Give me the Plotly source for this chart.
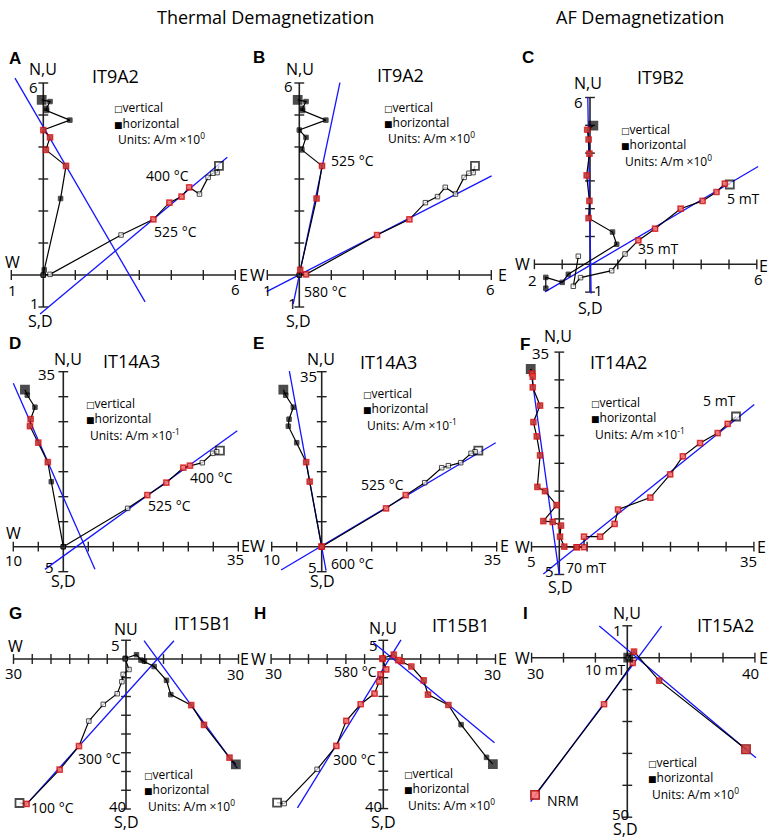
import plotly.graph_objects as go

W, H = 772, 840
FONT = "Open Sans"
BOLD = "Liberation Sans"

# ---------------- data (values in A/m, panel units) ----------------
# IT9A2 (panels A, B)
IT9A2_H_E = [-0.05, 0.21, 0.10, 0.10, 0.83, 0.00, 0.21, 0.08, 0.71, 0.54, 0.03, 0.00]
IT9A2_H_N = [5.47, 5.42, 5.21, 5.14, 4.84, 4.53, 4.30, 3.91, 3.41, 2.39, 0.16, 0.00]
IT9A2_V_X = [5.49, 5.43, 5.30, 5.15, 4.88, 4.56, 4.32, 3.94, 3.44, 2.43, 0.21, 0.00]
IT9A2_V_U = [3.41, 3.20, 3.18, 3.05, 2.53, 2.74, 2.45, 2.26, 1.74, 1.25, 0.02, 0.00]
# IT9B2 (panel C)
IT9B2_H_E = [0.12, -0.10, -0.05, -0.02, -0.12, -0.02, -0.05, 0.81, 0.96, -0.78, -1.00, -1.59, -1.59]
IT9B2_H_N = [4.99, 4.84, 4.49, 3.98, 3.20, 2.28, 1.66, 1.16, 0.72, -0.36, -0.65, -0.47, -0.86]
IT9B2_V_X = [5.03, 4.85, 4.55, 4.05, 3.26, 2.34, 1.74, 1.26, 0.78, -0.34, -0.60, -0.42]
IT9B2_V_U = [2.87, 2.90, 2.60, 2.28, 2.00, 1.28, 0.86, 0.37, -0.23, -0.48, -0.79, 0.29]
# IT14A3 (panels D, E)
IT14A3_H_E = [-7.67, -7.2, -5.67, -6.53, -6.67, -5.0, -3.1, -2.4, 0.0]
IT14A3_H_N = [31.4, 30.3, 27.9, 25.5, 24.1, 20.8, 16.9, 13.0, 0.0]
IT14A3_V_X = [31.33, 30.67, 29.87, 27.8, 25.33, 24.0, 20.6, 16.8, 12.87, 0.0]
IT14A3_V_U = [19.2, 19.0, 18.67, 16.8, 16.2, 15.8, 12.8, 10.33, 7.67, 0.0]
# IT14A2 (panel F)
IT14A2_H_E = [-5.14, -4.9, -4.78, -4.78, -3.46, -4.66, -4.06, -3.46, -3.94, -2.57, -0.48,
              -2.87, -1.19, 0.3, 0.13, 0.9, 3.13]
IT14A2_H_N = [31.96, 31.2, 30.59, 28.67, 25.39, 22.4, 19.83, 16.43, 10.75, 9.98, 7.47,
              4.6, 4.48, 3.8, 1.8, 0.0, -0.1]
IT14A2_V_X = [31.78, 30.29, 28.49, 25.33, 22.22, 19.95, 16.37, 10.57, 9.95, 7.35, 4.45, 4.45, 3.13]
IT14A2_V_U = [23.42, 22.1, 20.43, 18.64, 16.25, 13.02, 8.84, 6.69, 4.1, 1.8, 1.8, -0.1, -0.1]
# IT15B1 (panels G, H)
IT15B1_H_E = [29.3, 27.6, 20.8, 17.4, 11.95, 10.8, 7.5, 4.9, 4.0, 2.8, -0.2]
IT15B1_H_N = [-28.1, -26.3, -17.55, -12.3, -9.5, -5.7, -2.0, -0.6, -0.3, 1.15, 0.2]
IT15B1_V_X = [-28.4, -26.5, -17.7, -12.55, -9.9, -6.05, -2.35, -1.1, -0.75, 0.8, -0.2]
IT15B1_V_U = [-38.4, -38.65, -29.5, -23.25, -16.55, -12.1, -9.25, -6.05, -4.1, -2.8, 0.0]
# IT15A2 (panel I)
IT15A2_H_E = [37.2, 10.0, 2.1, 0.3]
IT15A2_H_N = [-28.7, -7.2, 1.9, 0.0]
IT15A2_V_X = [-28.9, -7.3, 1.7, 0.3]
IT15A2_V_U = [-43.0, -14.6, -1.6, 0.0]

# fitted directions (line end points)
A_FIT = [([-0.885, 3.18], [6.15, -0.84]), ([-0.10, 5.75], [-1.22, 3.68])]
B_FIT = [([-0.19, 1.27], [-0.90, 6.01]), ([-1.02, 6.01], [-0.52, 3.10])]
C_FIT = [([-0.08, 0.04], [6.01, -1.05]), ([-1.62, 6.05], [-0.99, 3.52])]
D_FIT = [([-10.0, 6.33], [32.67, -4.53]), ([-3.67, 34.8], [-4.53, 23.2])]
E_FIT = [([-6.47, 0.87], [35.13, -4.8]), ([-8.13, 34.8], [-4.67, 20.8])]
F_FIT = [([-5.14, 0.0], [31.96, -5.08]), ([-2.87, 35.07], [-4.9, 25.57])]
G_FIT = [([4.8, 29.66], [4.88, -29.13]), ([12.79, -26.9], [4.88, -39.16])]
H_FIT = [([-2.68, 29.73], [4.38, -22.41]), ([4.73, -22.95], [5.09, -39.82])]
I_FIT = [([-8.78, 40.33], [9.93, -31.35]), ([10.76, -30.3], [9.93, -45.14])]

PANELS = [
    dict(ox=43.3, oy=275.0, ppu=32.0, xr=(-1, 6), yr=(-1, 6), step=1, cell=(0, 0),
         H=(IT9A2_H_E, IT9A2_H_N), V=(IT9A2_V_X, IT9A2_V_U),
         hred=[5, 6, 7, 8], vred=[5, 6, 7, 8], hbig=[0], vbig=[0], fits=A_FIT),
    dict(ox=299.3, oy=275.0, ppu=32.0, xr=(-1, 6), yr=(-1, 6), step=1, cell=(1, 0),
         H=(IT9A2_H_E, IT9A2_H_N), V=(IT9A2_V_X, IT9A2_V_U),
         hred=[8, 9, 10], vred=[8, 9, 10], hbig=[0], vbig=[0], fits=B_FIT),
    dict(ox=590.0, oy=264.3, ppu=27.8, xr=(-2, 6), yr=(-1, 6), step=1, cell=(2, 0),
         H=(IT9B2_H_E, IT9B2_H_N), V=(IT9B2_V_X, IT9B2_V_U),
         hred=[1, 2, 3, 4, 5, 6], vred=[1, 2, 3, 4, 5, 6], hbig=[0], vbig=[0], fits=C_FIT),
    dict(ox=63.3, oy=546.7, ppu=5.0, xr=(-10, 35), yr=(-5, 35), step=5, cell=(0, 1),
         H=(IT14A3_H_E, IT14A3_H_N), V=(IT14A3_V_X, IT14A3_V_U),
         hred=[3, 4, 5, 6], vred=[4, 5, 6, 7], hbig=[0], vbig=[0], fits=D_FIT),
    dict(ox=321.7, oy=546.7, ppu=5.0, xr=(-10, 35), yr=(-5, 35), step=5, cell=(1, 1),
         H=(IT14A3_H_E, IT14A3_H_N), V=(IT14A3_V_X, IT14A3_V_U),
         hred=[6, 7, 8], vred=[7, 8, 9], hbig=[0], vbig=[0], fits=E_FIT),
    dict(ox=559.3, oy=546.7, ppu=5.56, xr=(-5, 35), yr=(-5, 35), step=5, cell=(2, 1),
         H=(IT14A2_H_E, IT14A2_H_N), V=(IT14A2_V_X, IT14A2_V_U),
         hred=list(range(1, 17)), vred=list(range(1, 13)), hbig=[0], vbig=[0], fits=F_FIT),
    dict(ox=126.0, oy=659.0, ppu=3.75, xr=(-30, 30), yr=(-40, 5), step=5, cell=(0, 2),
         H=(IT15B1_H_E, IT15B1_H_N), V=(IT15B1_V_X, IT15B1_V_U),
         hred=[1, 2, 3], vred=[1, 2, 3], hbig=[0], vbig=[0], fits=G_FIT),
    dict(ox=383.3, oy=659.0, ppu=3.74, xr=(-30, 30), yr=(-40, 5), step=5, cell=(1, 2),
         H=(IT15B1_H_E, IT15B1_H_N), V=(IT15B1_V_X, IT15B1_V_U),
         hred=list(range(3, 11)), vred=list(range(3, 11)), hbig=[0], vbig=[0], fits=H_FIT),
    dict(ox=627.3, oy=657.7, ppu=3.19, xr=(-30, 40), yr=(-50, 10), step=10, cell=(2, 2),
         H=(IT15A2_H_E, IT15A2_H_N), V=(IT15A2_V_X, IT15A2_V_U),
         hred=[0, 1, 2], vred=[0, 1, 2], hbig=[0, 3], vbig=[0], fits=I_FIT),
]

COLS = [(0, 262), (252, 517), (507, 772)]
ROWS = [(35, 330), (292, 600), (568, 840)]

fig = go.Figure()
layout = dict(width=W, height=H, margin=dict(l=0, r=0, t=0, b=0),
              paper_bgcolor="white", plot_bgcolor="rgba(0,0,0,0)", showlegend=False)

BLUE = "#1414ff"
for i, p in enumerate(PANELS):
    n = "" if i == 0 else str(i + 1)
    xa, ya = "x" + n, "y" + n
    dx0, dx1 = COLS[p["cell"][0]]
    dy0, dy1 = ROWS[p["cell"][1]]
    layout["xaxis" + n] = dict(domain=[dx0 / W, dx1 / W], anchor=ya, visible=False,
                               range=[(dx0 - p["ox"]) / p["ppu"], (dx1 - p["ox"]) / p["ppu"]])
    layout["yaxis" + n] = dict(domain=[1 - dy1 / H, 1 - dy0 / H], anchor=xa, visible=False,
                               range=[(p["oy"] - dy1) / p["ppu"], (p["oy"] - dy0) / p["ppu"]])
    ax = dict(xaxis=xa, yaxis=ya, hoverinfo="skip")
    x0, x1 = p["xr"]
    y0, y1 = p["yr"]
    s = p["step"]
    # axes
    fig.add_trace(go.Scatter(x=[x0, x1], y=[0, 0], mode="lines",
                             line=dict(color="#222", width=1.6), **ax))
    fig.add_trace(go.Scatter(x=[0, 0], y=[y0, y1], mode="lines",
                             line=dict(color="#222", width=1.6), **ax))
    xt = [k * s for k in range(int(x0 / s), int(x1 / s) + 1) if k != 0]
    yt = [k * s for k in range(int(y0 / s), int(y1 / s) + 1) if k != 0]
    fig.add_trace(go.Scatter(x=xt, y=[0] * len(xt), mode="markers",
                             marker=dict(symbol="line-ns", size=7, line=dict(color="#222", width=1.4)), **ax))
    fig.add_trace(go.Scatter(x=[0] * len(yt), y=yt, mode="markers",
                             marker=dict(symbol="line-ew", size=7, line=dict(color="#222", width=1.4)), **ax))
    # fit lines
    for fx, fy in p["fits"]:
        fig.add_trace(go.Scatter(x=fx, y=fy, mode="lines", line=dict(color=BLUE, width=1.3), **ax))
    # data
    for key, filled, red, big in (("V", False, p["vred"], p["vbig"]), ("H", True, p["hred"], p["hbig"])):
        xs, ys = p[key]
        fig.add_trace(go.Scatter(x=xs, y=ys, mode="lines", line=dict(color="black", width=1.2), **ax))
        sizes = [8 if j in big else 4.5 for j in range(len(xs))]
        lw = [1.8 if j in big else 1.0 for j in range(len(xs))]
        fig.add_trace(go.Scatter(x=xs, y=ys, mode="markers",
                                 marker=dict(symbol="square", size=sizes,
                                             color="black" if filled else "white",
                                             line=dict(color="black", width=lw)), **ax))
        rx = [xs[j] for j in red]
        ry = [ys[j] for j in red]
        rs = [8.5 if j in big else 5.5 for j in red]
        fig.add_trace(go.Scatter(x=rx, y=ry, mode="markers",
                                 marker=dict(symbol="square", size=rs, color="#ff5050",
                                             line=dict(color="#ee1010", width=1.2)), **ax))

ann = []


def T(text, x, y, size=15, anchor="center", family=FONT):
    ann.append(dict(text=text, x=x / W, y=1 - y / H, xref="paper", yref="paper",
                    xanchor=anchor, yanchor="middle", showarrow=False,
                    font=dict(size=size, family=family, color="black")))


def legend(x, y, exp):
    T("<span style='font-size:9px;font-family:DejaVu Sans'>\u25a1</span>vertical", x, y, 12, "left")
    T("<span style='font-size:9px;font-family:DejaVu Sans'>\u25a0</span>horizontal", x, y + 15.5, 12, "left")
    T("Units: A/m \u00d710<sup>%s</sup>" % exp, x + 4, y + 31.5, 12, "left")


T("Thermal Demagnetization", 265, 17, 18)
T("AF Demagnetization", 640, 17, 18)

# panel A
T("<b>A</b>", 15, 59, 17, family=BOLD); T("N,U", 43, 69, 16); T("IT9A2", 115, 76, 18)
T("6", 33, 87); T("W", 12, 262, 16); T("E", 243, 275, 16); T("1", 12, 290); T("6", 235, 289)
T("1", 34, 303); T("S,D", 40, 321, 16)
T("400 \u00b0C", 167, 175, 14); T("525 \u00b0C", 175, 231, 14)
legend(112, 108, "0")
# panel B
T("<b>B</b>", 259, 58, 17, family=BOLD); T("N,U", 300, 69, 16); T("IT9A2", 401, 75, 18)
T("6", 288, 86); T("W", 257, 275, 16); T("E", 502, 275, 16); T("1", 267, 290); T("6", 490, 289)
T("1", 292, 303); T("S,D", 298, 321, 16)
T("525 \u00b0C", 352, 160, 14); T("580 \u00b0C", 325, 291, 14)
legend(382, 107, "0")
# panel C
T("<b>C</b>", 528, 58, 17, family=BOLD); T("N,U", 588, 83, 16); T("IT9B2", 660, 77, 18)
T("6", 578, 102); T("W", 522, 264, 16); T("E", 763, 266, 16); T("2", 532, 280); T("6", 758, 279)
T("1", 598, 290); T("S,D", 590, 308, 16)
T("5 mT", 743, 198, 14); T("35 mT", 658, 248, 14)
legend(619, 129, "0")
# panel D
T("<b>D</b>", 15, 343, 17, family=BOLD); T("N,U", 68, 359, 16); T("IT14A3", 131, 361, 18)
T("35", 46, 374); T("W", 14, 533, 16); T("E", 245, 546, 16); T("10", 13, 560); T("35", 235, 559)
T("5", 50, 567); T("S,D", 63, 581, 16)
T("400 \u00b0C", 212, 477, 14); T("525 \u00b0C", 169, 505, 14)
legend(84, 403, "-1")
# panel E
T("<b>E</b>", 258, 343, 17, family=BOLD); T("N,U", 321, 359, 16); T("IT14A3", 388, 362, 18)
T("35", 308, 376); T("W", 257, 546, 16); T("E", 504, 546, 16); T("10", 271, 559); T("35", 492, 559)
T("5", 312, 567); T("S,D", 322, 581, 16)
T("525 \u00b0C", 382, 485, 14); T("600 \u00b0C", 352, 563, 14)
legend(361, 393, "-1")
# panel F
T("<b>F</b>", 525, 344, 17, family=BOLD); T("N,U", 558, 336, 16); T("IT14A2", 618, 362, 18)
T("35", 540, 353); T("W", 522, 547, 16); T("E", 761, 547, 16); T("5", 531, 561); T("35", 748, 561)
T("5", 549, 571); T("S,D", 560, 587, 16)
T("5 mT", 719, 400, 14); T("70 mT", 586, 567, 14)
legend(589, 402, "-1")
# panel G
T("<b>G</b>", 15, 613, 17, family=BOLD); T("NU", 126, 629, 16); T("IT15B1", 202, 623, 18)
T("5", 115, 645); T("W", 15, 646, 16); T("E", 244, 659, 16); T("30", 13, 673); T("30", 235, 674)
T("40", 117, 806); T("S,D", 126, 822, 16)
T("300 \u00b0C", 99, 758, 14); T("100 \u00b0C", 53, 807, 14)
legend(142, 774, "0")
# panel H
T("<b>H</b>", 260, 613, 17, family=BOLD); T("N,U", 383, 628, 16); T("IT15B1", 460, 625, 18)
T("5", 373, 645); T("W", 258, 659, 16); T("E", 502, 659, 16); T("30", 273, 673); T("30", 492, 674)
T("40", 373, 806); T("S,D", 383, 822, 16)
T("580 \u00b0C", 355, 671, 14); T("300 \u00b0C", 354, 759, 14)
legend(402, 773, "0")
# panel I
T("<b>I</b>", 525, 613, 17, family=BOLD); T("N,U", 627, 613, 16); T("IT15A2", 725, 625, 18)
T("1", 617, 630); T("W", 522, 658, 16); T("E", 763, 658, 16); T("30", 535, 673); T("40", 750, 673)
T("50", 620, 814); T("S,D", 625, 829, 16)
T("10 mT", 605, 669, 14); T("NRM", 563, 800, 14)
legend(646, 762, "0")

layout["annotations"] = ann
fig.update_layout(**layout)
fig.write_html("out.html", config={"displayModeBar": False},
               post_script="document.body.style.margin='0';")
